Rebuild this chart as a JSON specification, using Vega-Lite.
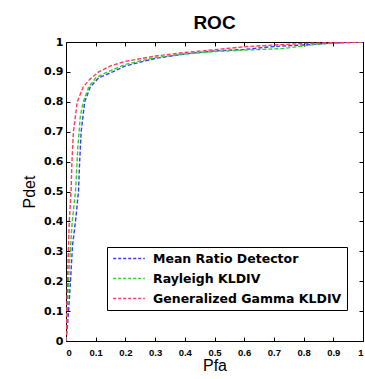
{
  "$schema": "https://vega.github.io/schema/vega-lite/v6.json",
  "width": 297,
  "height": 299,
  "autosize": {"type": "none"},
  "padding": {"left": 66, "top": 42, "right": 2, "bottom": 38},
  "background": "white",
  "title": {"text": "ROC", "fontSize": 19, "font": "Liberation Sans", "fontWeight": "bold", "offset": 3, "color": "black"},
  "config": {
    "view": {"stroke": "black", "strokeWidth": 1},
    "axis": {"labelFont": "Liberation Sans", "labelFontWeight": "bold", "labelFontSize": 10, "labelColor": "black", "titleFont": "Liberation Sans", "titleFontWeight": "normal", "titleFontSize": 16, "titleColor": "black", "domain": false, "grid": false, "tickSize": -4, "tickColor": "black", "labelPadding": 8}
  },
  "data": {"values": [
    {"pfa": 0, "pdet": 0, "s": "Mean Ratio Detector"},
    {"pfa": 0.005, "pdet": 0.05, "s": "Mean Ratio Detector"},
    {"pfa": 0.012, "pdet": 0.15, "s": "Mean Ratio Detector"},
    {"pfa": 0.018, "pdet": 0.25, "s": "Mean Ratio Detector"},
    {"pfa": 0.022, "pdet": 0.32, "s": "Mean Ratio Detector"},
    {"pfa": 0.032, "pdet": 0.4, "s": "Mean Ratio Detector"},
    {"pfa": 0.042, "pdet": 0.5, "s": "Mean Ratio Detector"},
    {"pfa": 0.046, "pdet": 0.6, "s": "Mean Ratio Detector"},
    {"pfa": 0.051, "pdet": 0.7, "s": "Mean Ratio Detector"},
    {"pfa": 0.063, "pdet": 0.8, "s": "Mean Ratio Detector"},
    {"pfa": 0.082, "pdet": 0.85, "s": "Mean Ratio Detector"},
    {"pfa": 0.11, "pdet": 0.88, "s": "Mean Ratio Detector"},
    {"pfa": 0.157, "pdet": 0.9, "s": "Mean Ratio Detector"},
    {"pfa": 0.2, "pdet": 0.92, "s": "Mean Ratio Detector"},
    {"pfa": 0.3, "pdet": 0.945, "s": "Mean Ratio Detector"},
    {"pfa": 0.4, "pdet": 0.96, "s": "Mean Ratio Detector"},
    {"pfa": 0.5, "pdet": 0.97, "s": "Mean Ratio Detector"},
    {"pfa": 0.6, "pdet": 0.975, "s": "Mean Ratio Detector"},
    {"pfa": 0.7, "pdet": 0.985, "s": "Mean Ratio Detector"},
    {"pfa": 0.8, "pdet": 0.99, "s": "Mean Ratio Detector"},
    {"pfa": 0.9, "pdet": 0.997, "s": "Mean Ratio Detector"},
    {"pfa": 1, "pdet": 1, "s": "Mean Ratio Detector"},
    {"pfa": 0, "pdet": 0, "s": "Rayleigh KLDIV"},
    {"pfa": 0.004, "pdet": 0.1, "s": "Rayleigh KLDIV"},
    {"pfa": 0.011, "pdet": 0.25, "s": "Rayleigh KLDIV"},
    {"pfa": 0.021, "pdet": 0.4, "s": "Rayleigh KLDIV"},
    {"pfa": 0.032, "pdet": 0.5, "s": "Rayleigh KLDIV"},
    {"pfa": 0.04, "pdet": 0.65, "s": "Rayleigh KLDIV"},
    {"pfa": 0.048, "pdet": 0.75, "s": "Rayleigh KLDIV"},
    {"pfa": 0.058, "pdet": 0.8, "s": "Rayleigh KLDIV"},
    {"pfa": 0.077, "pdet": 0.85, "s": "Rayleigh KLDIV"},
    {"pfa": 0.1, "pdet": 0.88, "s": "Rayleigh KLDIV"},
    {"pfa": 0.14, "pdet": 0.9, "s": "Rayleigh KLDIV"},
    {"pfa": 0.2, "pdet": 0.925, "s": "Rayleigh KLDIV"},
    {"pfa": 0.3, "pdet": 0.948, "s": "Rayleigh KLDIV"},
    {"pfa": 0.4, "pdet": 0.96, "s": "Rayleigh KLDIV"},
    {"pfa": 0.5, "pdet": 0.968, "s": "Rayleigh KLDIV"},
    {"pfa": 0.6, "pdet": 0.973, "s": "Rayleigh KLDIV"},
    {"pfa": 0.73, "pdet": 0.978, "s": "Rayleigh KLDIV"},
    {"pfa": 0.85, "pdet": 0.993, "s": "Rayleigh KLDIV"},
    {"pfa": 1, "pdet": 1, "s": "Rayleigh KLDIV"},
    {"pfa": 0, "pdet": 0, "s": "Generalized Gamma KLDIV"},
    {"pfa": 0.005, "pdet": 0.2, "s": "Generalized Gamma KLDIV"},
    {"pfa": 0.011, "pdet": 0.4, "s": "Generalized Gamma KLDIV"},
    {"pfa": 0.017, "pdet": 0.5, "s": "Generalized Gamma KLDIV"},
    {"pfa": 0.02, "pdet": 0.6, "s": "Generalized Gamma KLDIV"},
    {"pfa": 0.025, "pdet": 0.7, "s": "Generalized Gamma KLDIV"},
    {"pfa": 0.038, "pdet": 0.8, "s": "Generalized Gamma KLDIV"},
    {"pfa": 0.058, "pdet": 0.85, "s": "Generalized Gamma KLDIV"},
    {"pfa": 0.08, "pdet": 0.875, "s": "Generalized Gamma KLDIV"},
    {"pfa": 0.11, "pdet": 0.9, "s": "Generalized Gamma KLDIV"},
    {"pfa": 0.15, "pdet": 0.92, "s": "Generalized Gamma KLDIV"},
    {"pfa": 0.2, "pdet": 0.935, "s": "Generalized Gamma KLDIV"},
    {"pfa": 0.3, "pdet": 0.953, "s": "Generalized Gamma KLDIV"},
    {"pfa": 0.4, "pdet": 0.965, "s": "Generalized Gamma KLDIV"},
    {"pfa": 0.5, "pdet": 0.974, "s": "Generalized Gamma KLDIV"},
    {"pfa": 0.6, "pdet": 0.984, "s": "Generalized Gamma KLDIV"},
    {"pfa": 0.7, "pdet": 0.99, "s": "Generalized Gamma KLDIV"},
    {"pfa": 0.8, "pdet": 0.995, "s": "Generalized Gamma KLDIV"},
    {"pfa": 0.9, "pdet": 0.998, "s": "Generalized Gamma KLDIV"},
    {"pfa": 1, "pdet": 1, "s": "Generalized Gamma KLDIV"}
  ]},
  "layer": [
    {
      "mark": {"type": "line", "strokeDash": [4, 2], "strokeWidth": 1.4, "clip": true},
      "encoding": {
        "x": {"field": "pfa", "type": "quantitative", "scale": {"domain": [0, 1], "nice": false}, "axis": {"title": "Pfa", "labelFontSize": 9.5, "labelPadding": 10, "values": [0, 0.1, 0.2, 0.3, 0.4, 0.5, 0.6, 0.7, 0.8, 0.9, 1], "format": "~g", "titlePadding": 1}},
        "y": {"field": "pdet", "type": "quantitative", "scale": {"domain": [0, 1], "nice": false}, "axis": {"title": "Pdet", "labelFont": "DejaVu Sans", "labelFontSize": 11, "labelPadding": 7, "values": [0, 0.1, 0.2, 0.3, 0.4, 0.5, 0.6, 0.7, 0.8, 0.9, 1], "format": "~g", "titlePadding": 6}},
        "color": {"field": "s", "type": "nominal", "sort": null,
          "scale": {"domain": ["Mean Ratio Detector", "Rayleigh KLDIV", "Generalized Gamma KLDIV"], "range": ["#3a3aff", "#30d030", "#ff3a5a"]},
          "legend": {"title": null, "orient": "none", "legendX": 41, "legendY": 205, "direction": "vertical", "symbolType": "M-1,0H1", "symbolDash": [3, 2], "symbolStrokeWidth": 1.6, "symbolSize": 1000, "clipHeight": 13, "labelOffset": 7, "labelFont": "DejaVu Sans", "labelFontWeight": "bold", "labelFontSize": 12.5, "labelColor": "black", "strokeColor": "black", "fillColor": "white", "padding": 5, "rowPadding": 7, "labelLimit": 300}
        }
      }
    },
    {
      "mark": {"type": "line", "opacity": 0},
      "encoding": {
        "x": {"field": "pfa", "type": "quantitative", "axis": {"orient": "top", "labels": false, "title": null, "values": [0, 0.1, 0.2, 0.3, 0.4, 0.5, 0.6, 0.7, 0.8, 0.9, 1]}},
        "y": {"field": "pdet", "type": "quantitative", "axis": {"orient": "right", "labels": false, "title": null, "values": [0, 0.1, 0.2, 0.3, 0.4, 0.5, 0.6, 0.7, 0.8, 0.9, 1]}}
      }
    }
  ],
  "resolve": {"axis": {"x": "independent", "y": "independent"}}
}
